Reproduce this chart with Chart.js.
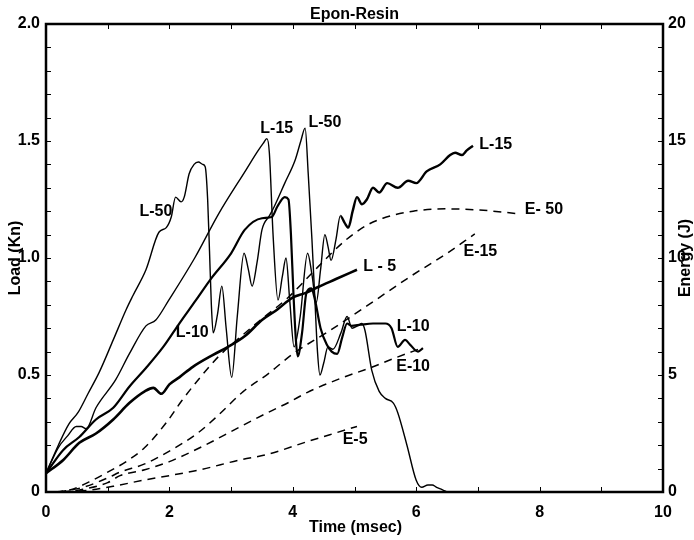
<!DOCTYPE html>
<html>
<head>
<meta charset="utf-8">
<script src="https://cdn.jsdelivr.net/npm/chart.js@4.4.1/dist/chart.umd.min.js"></script>
<style>
  html, body { margin: 0; padding: 0; background: #fff; }
</style>
</head>
<body>
<canvas id="epon" width="694" height="540"></canvas>
<script>
// load curves (left axis, kN)
const l50Time = [0, 0.2, 0.37, 0.52, 0.68, 0.86, 1.09, 1.3, 1.41, 1.62, 1.83, 1.95, 2.03, 2.1, 2.19, 2.24, 2.32, 2.4, 2.47, 2.54, 2.58, 2.62, 2.65, 2.68, 2.71, 2.78, 2.85, 2.92, 3.01, 3.1, 3.21, 3.28, 3.34, 3.42, 3.5, 3.62, 3.7, 3.87, 4.04, 4.13, 4.2, 4.25, 4.31, 4.36, 4.4, 4.44, 4.5, 4.57, 4.65, 4.78, 4.88, 4.96, 5.05, 5.12, 5.17, 5.28, 5.4, 5.5, 5.63, 5.7, 5.85, 6.0, 6.09, 6.19, 6.26, 6.33, 6.42, 6.5];
const l50Load = [0.08, 0.2, 0.29, 0.34, 0.42, 0.51, 0.65, 0.78, 0.84, 0.95, 1.11, 1.13, 1.175, 1.26, 1.24, 1.26, 1.36, 1.40, 1.41, 1.40, 1.39, 1.25, 1.03, 0.8, 0.68, 0.76, 0.88, 0.7, 0.49, 0.75, 1.02, 0.95, 0.88, 0.98, 1.12, 1.18, 1.22, 1.32, 1.42, 1.50, 1.555, 1.36, 1.08, 0.81, 0.6, 0.50, 0.55, 0.62, 0.61, 0.68, 0.75, 0.70, 0.71, 0.72, 0.69, 0.52, 0.43, 0.40, 0.38, 0.34, 0.2, 0.05, 0.02, 0.03, 0.03, 0.02, 0.01, 0];

const l15Time = [0, 0.2, 0.35, 0.49, 0.57, 0.65, 0.81, 1.13, 1.35, 1.62, 1.78, 1.99, 2.41, 2.8, 3.24, 3.44, 3.52, 3.58, 3.62, 3.68, 3.76, 3.83, 3.89, 3.95, 4.02, 4.12, 4.24, 4.31, 4.38, 4.45, 4.52, 4.57, 4.62, 4.7, 4.77, 4.84, 4.9, 4.97, 5.04, 5.12, 5.2, 5.3, 5.4, 5.53, 5.7, 5.87, 6.0, 6.17, 6.39, 6.55, 6.63, 6.74, 6.82, 6.92];
const l15Load = [0.08, 0.19, 0.24, 0.28, 0.28, 0.27, 0.36, 0.48, 0.59, 0.71, 0.735, 0.82, 1.0, 1.19, 1.376, 1.46, 1.49, 1.51, 1.45, 1.1, 0.82, 0.92, 1.0, 0.82, 0.62, 0.75, 1.02, 0.93, 0.81, 0.95, 1.1, 1.05, 0.99, 1.08, 1.18, 1.15, 1.13, 1.2, 1.26, 1.23, 1.25, 1.30, 1.28, 1.32, 1.30, 1.33, 1.32, 1.37, 1.40, 1.44, 1.45, 1.44, 1.46, 1.48];

const l10Time = [0, 0.28, 0.54, 0.81, 1.09, 1.35, 1.62, 1.9, 2.16, 2.43, 2.67, 3.0, 3.22, 3.5, 3.66, 3.75, 3.87, 3.93, 3.97, 4.01, 4.05, 4.08, 4.15, 4.22, 4.3, 4.36, 4.45, 4.55, 4.63, 4.72, 4.8, 4.88, 4.95, 5.1, 5.3, 5.5, 5.6, 5.7, 5.82, 5.9, 6.03, 6.11];
const l10Load = [0.08, 0.18, 0.235, 0.31, 0.36, 0.45, 0.53, 0.62, 0.72, 0.82, 0.91, 1.02, 1.12, 1.17, 1.175, 1.22, 1.26, 1.25, 1.1, 0.85, 0.65, 0.58, 0.68, 0.85, 0.87, 0.82, 0.7, 0.63, 0.6, 0.59, 0.66, 0.72, 0.71, 0.715, 0.72, 0.72, 0.70, 0.62, 0.65, 0.63, 0.60, 0.615];

const l5Time = [0, 0.28, 0.54, 0.81, 1.09, 1.35, 1.6, 1.74, 1.87, 2.0, 2.16, 2.38, 2.7, 2.95, 3.24, 3.5, 3.75, 3.99, 4.2, 4.41, 4.7, 5.04];
const l5Load = [0.08, 0.137, 0.21, 0.25, 0.31, 0.38, 0.43, 0.445, 0.42, 0.46, 0.49, 0.535, 0.585, 0.62, 0.67, 0.735, 0.78, 0.83, 0.85, 0.876, 0.91, 0.95];

// energy curves (right axis, J)
const e50Time = [0.15, 0.4, 0.7, 1.0, 1.3, 1.6, 1.96, 2.2, 2.5, 2.8, 3.14, 3.5, 3.92, 4.4, 4.85, 5.2, 5.46, 5.95, 6.5, 7.03, 7.63];
const e50Energy = [0, 0.1, 0.43, 0.85, 1.3, 1.9, 3.0, 3.9, 4.9, 5.8, 6.6, 7.4, 8.3, 9.6, 10.75, 11.4, 11.7, 12.0, 12.1, 12.05, 11.9];

const e15Time = [0.2, 0.6, 1.0, 1.2, 1.6, 2.0, 2.45, 2.8, 3.2, 3.6, 4.0, 4.6, 5.2, 5.9, 6.5, 6.95];
const e15Energy = [0, 0.2, 0.6, 0.85, 1.2, 1.75, 2.5, 3.3, 4.3, 5.05, 5.9, 6.9, 7.95, 9.2, 10.2, 11.03];

const e10Time = [0.25, 0.6, 1.0, 1.2, 1.6, 2.0, 2.5, 3.14, 3.6, 3.95, 4.23, 4.77, 5.3, 5.63, 6.09];
const e10Energy = [0, 0.12, 0.4, 0.7, 0.95, 1.3, 1.9, 2.78, 3.4, 3.85, 4.25, 4.85, 5.35, 5.7, 6.15];

const e5Time = [0.3, 0.7, 1.1, 1.57, 2.0, 2.5, 3.14, 3.58, 4.23, 4.6, 5.04];
const e5Energy = [0, 0.08, 0.25, 0.5, 0.7, 0.95, 1.37, 1.6, 2.15, 2.45, 2.8];

// curve labels, placed in time / load units
const curveLabels = [
  { text: 'L-50', t: 1.78, load: 1.2 },
  { text: 'L-15', t: 3.74, load: 1.555 },
  { text: 'L-50', t: 4.52, load: 1.577 },
  { text: 'L-15', t: 7.29, load: 1.483 },
  { text: 'E- 50', t: 8.07, load: 1.205 },
  { text: 'E-15', t: 7.04, load: 1.026 },
  { text: 'L - 5', t: 5.41, load: 0.962 },
  { text: 'L-10', t: 2.37, load: 0.68 },
  { text: 'L-10', t: 5.95, load: 0.705 },
  { text: 'E-10', t: 5.95, load: 0.538 },
  { text: 'E-5', t: 5.01, load: 0.226 }
];

const FONT = '"Liberation Sans", Arial, sans-serif';

function toPoints(xs, ys) {
  return xs.map((x, i) => ({ x: x, y: ys[i] }));
}

function loadSet(xs, ys, width) {
  return {
    data: toPoints(xs, ys),
    yAxisID: 'y',
    borderColor: '#000',
    borderWidth: width,
    pointRadius: 0,
    fill: false
  };
}

function energySet(xs, ys) {
  return {
    data: toPoints(xs, ys),
    yAxisID: 'y2',
    borderColor: '#000',
    borderWidth: 1.5,
    borderDash: [8, 6],
    pointRadius: 0,
    fill: false
  };
}

const l15 = loadSet(l15Time, l15Load, 1.4);
l15.segment = { borderWidth: c => (c.p0.parsed.x > 4.7 ? 2.4 : 1.4) };

const framePlugin = {
  id: 'framePlugin',
  afterDraw(chart) {
    const { ctx, chartArea: a, scales } = chart;
    ctx.save();
    ctx.strokeStyle = '#000';
    ctx.lineWidth = 2.5;
    ctx.strokeRect(a.left, a.top, a.right - a.left, a.bottom - a.top);

    // inward ticks
    ctx.lineWidth = 1;
    ctx.beginPath();
    for (let v = 0; v <= 10; v++) {
      const px = Math.round(scales.x.getPixelForValue(v)) + 0.5;
      ctx.moveTo(px, a.bottom); ctx.lineTo(px, a.bottom - 5);
      ctx.moveTo(px, a.top); ctx.lineTo(px, a.top + 5);
    }
    for (let i = 0; i <= 20; i++) {
      const py = Math.round(scales.y.getPixelForValue(i / 10)) + 0.5;
      ctx.moveTo(a.left, py); ctx.lineTo(a.left + 5, py);
      const py2 = Math.round(scales.y2.getPixelForValue(i)) + 0.5;
      ctx.moveTo(a.right, py2); ctx.lineTo(a.right - 5, py2);
    }
    ctx.stroke();

    ctx.fillStyle = '#000';
    ctx.textAlign = 'center';
    ctx.textBaseline = 'middle';
    ctx.font = 'bold 16px ' + FONT;
    curveLabels.forEach(l => {
      ctx.fillText(l.text, scales.x.getPixelForValue(l.t), scales.y.getPixelForValue(l.load));
    });

    const midX = (a.left + a.right) / 2;
    const midY = (a.top + a.bottom) / 2;
    ctx.font = 'bold 16px ' + FONT;
    ctx.fillText('Epon-Resin', midX, 15);
    ctx.fillText('Time (msec)', midX + 1, 528);

    ctx.save();
    ctx.translate(16, midY);
    ctx.rotate(-Math.PI / 2);
    ctx.fillText('Load (Kn)', 0, 0);
    ctx.restore();

    ctx.save();
    ctx.translate(686, midY);
    ctx.rotate(-Math.PI / 2);
    ctx.fillText('Energy (J)', 0, 0);
    ctx.restore();

    ctx.restore();
  }
};

const tickFont = { family: FONT, size: 16, weight: 'bold' };

new Chart(document.getElementById('epon'), {
  type: 'line',
  data: {
    datasets: [
      loadSet(l50Time, l50Load, 1.4),
      l15,
      loadSet(l10Time, l10Load, 2.2),
      loadSet(l5Time, l5Load, 2.6),
      energySet(e50Time, e50Energy),
      energySet(e15Time, e15Energy),
      energySet(e10Time, e10Energy),
      energySet(e5Time, e5Energy)
    ]
  },
  options: {
    responsive: false,
    animation: false,
    layout: { padding: { top: 24 } },
    elements: { line: { cubicInterpolationMode: 'monotone' } },
    plugins: { legend: { display: false }, tooltip: { enabled: false } },
    scales: {
      x: {
        type: 'linear', min: 0, max: 10,
        grid: { display: false, drawTicks: false },
        border: { display: false },
        ticks: { stepSize: 2, color: '#000', font: tickFont, padding: 11, maxRotation: 0 },
        afterFit(s) { s.height = 48; }
      },
      y: {
        position: 'left', min: 0, max: 2,
        grid: { display: false, drawTicks: false },
        border: { display: false },
        ticks: { stepSize: 0.5, color: '#000', font: tickFont, padding: 6,
          callback: v => (v === 0 ? '0' : v.toFixed(1)) },
        afterFit(s) { s.width = 46; }
      },
      y2: {
        position: 'right', min: 0, max: 20,
        grid: { display: false, drawTicks: false },
        border: { display: false },
        ticks: { stepSize: 5, color: '#000', font: tickFont, padding: 5 },
        afterFit(s) { s.width = 31; }
      }
    }
  },
  plugins: [framePlugin]
});
</script>
</body>
</html>
